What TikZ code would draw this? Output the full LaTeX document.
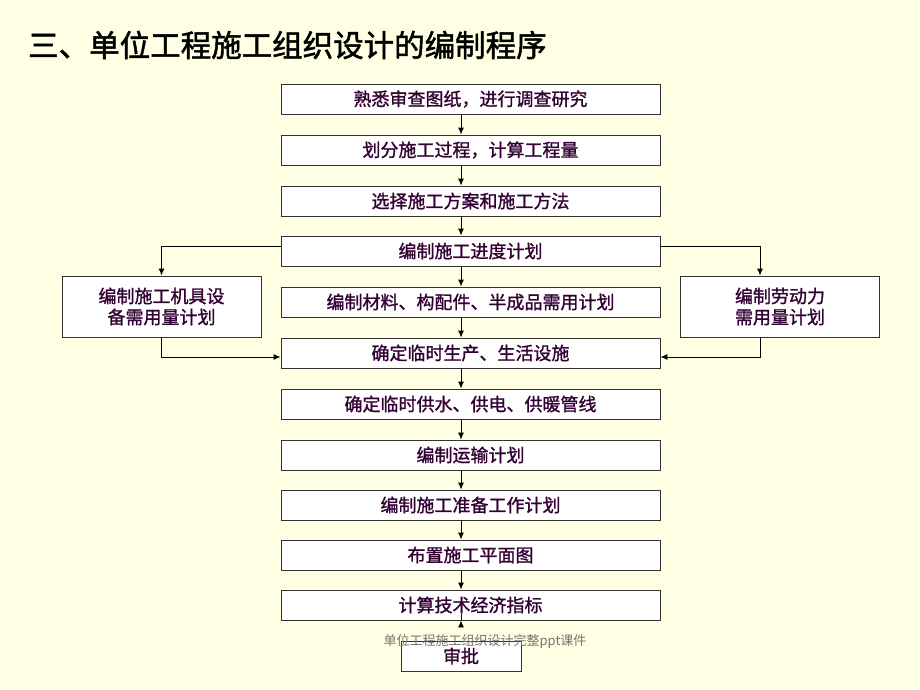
\documentclass[tikz,border=0pt]{standalone}
\usepackage{fontspec}
\newfontfamily\cjk{Noto Sans CJK SC}
\newfontfamily\cjkb[FakeBold=1.2]{Noto Sans CJK SC}
\newfontfamily\cjkt[FakeBold=1.6]{Noto Sans CJK SC}
\usetikzlibrary{arrows.meta}
\definecolor{bgc}{HTML}{FFFFE3}
\definecolor{txt}{HTML}{330033}
\tikzset{
  stepbox/.style={draw=black!80, line width=0.9pt, fill=white, minimum width=379pt, minimum height=30pt, inner sep=0pt, font=\cjkb\fontsize{18}{21}\selectfont, text=txt, align=center},
  sidebox/.style={stepbox, minimum width=199pt, minimum height=61pt},
  link/.style={draw=black, line width=0.9pt, -{Latex[length=7pt,width=6pt]}}
}
\begin{document}
\begin{tikzpicture}[x=1pt,y=-1pt]
\fill[bgc] (0,0) rectangle (920,690);
\useasboundingbox (0,0) rectangle (920,690);
\node[anchor=west, font=\cjkt\fontsize{30.5}{34}\selectfont, text=black, inner sep=0pt] (title) at (28,45) {三、单位工程施工组织设计的编制程序};
\node[stepbox] (b1) at (470.5,99) {熟悉审查图纸，进行调查研究};
\node[stepbox] (b2) at (470.5,150) {划分施工过程，计算工程量};
\node[stepbox] (b3) at (470.5,201) {选择施工方案和施工方法};
\node[stepbox] (b4) at (470.5,251) {编制施工进度计划};
\node[stepbox] (b5) at (470.5,302) {编制材料、构配件、半成品需用计划};
\node[stepbox] (b6) at (470.5,353) {确定临时生产、生活设施};
\node[stepbox] (b7) at (470.5,404) {确定临时供水、供电、供暖管线};
\node[stepbox] (b8) at (470.5,455) {编制运输计划};
\node[stepbox] (b9) at (470.5,505) {编制施工准备工作计划};
\node[stepbox] (b10) at (470.5,555) {布置施工平面图};
\node[stepbox] (b11) at (470.5,605) {计算技术经济指标};
\node[stepbox, minimum width=120pt] (b12) at (461,656) {审批};
\node[sidebox] (L) at (161.5,306.5) {编制施工机具设\\备需用量计划};
\node[sidebox] (R) at (780,306.5) {编制劳动力\\需用量计划};
\foreach \a/\b in {b1/b2,b2/b3,b3/b4,b4/b5,b5/b6,b6/b7,b7/b8,b8/b9,b9/b10,b10/b11}{
  \draw[link] ([xshift=-9.5pt]\a.south) -- ([xshift=-9.5pt]\b.north);
}
\draw[link] ([xshift=-9.5pt]b11.south) -- (b11.south -| b12.north);
\draw[link] ([yshift=5pt]b4.west) -| (L.north);
\draw[link] (L.south) |- ([yshift=-4pt]b6.west);
\draw[link] ([yshift=5pt]b4.east) -| ([xshift=-20pt]R.north);
\draw[link] ([xshift=-20pt]R.south) |- ([yshift=-4pt]b6.east);
\node[font=\cjk\fontsize{13}{15}\selectfont, text=black!55] (foot) at (485,641) {单位工程施工组织设计完整ppt课件};
\end{tikzpicture}
\end{document}
